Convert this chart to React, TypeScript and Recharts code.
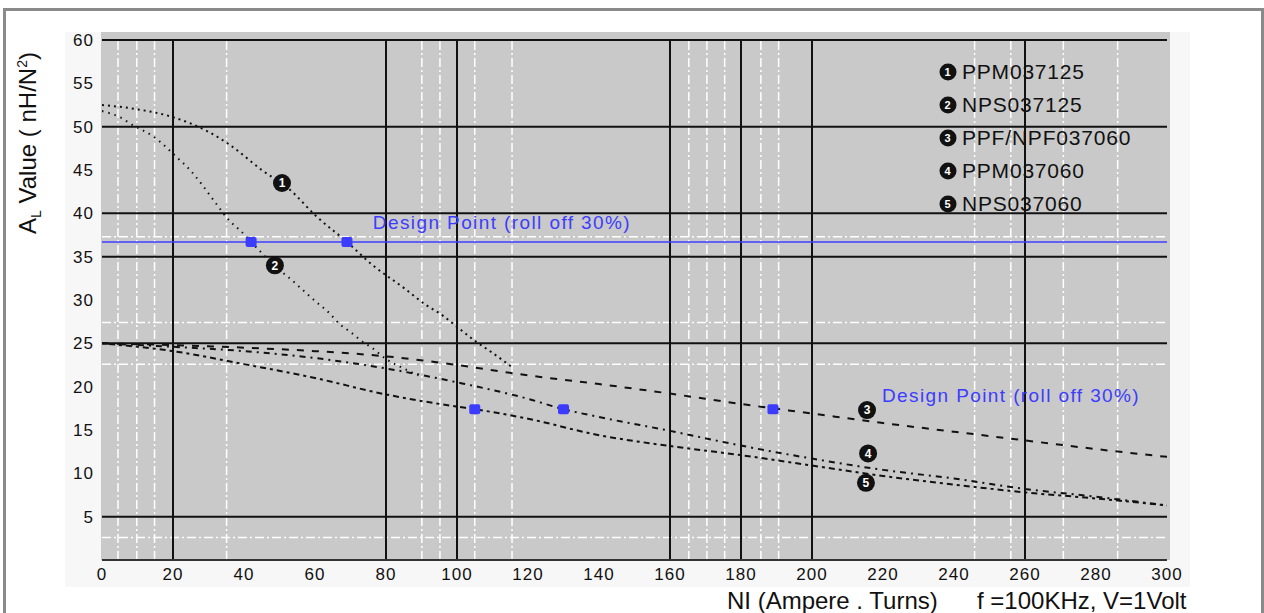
import { ComposedChart, Line, Scatter, XAxis, YAxis, ReferenceLine, Legend } from 'recharts';

const xTicks = [0, 20, 40, 60, 80, 100, 120, 140, 160, 180, 200, 220, 240, 260, 280, 300];
const yTicks = [5, 10, 15, 20, 25, 30, 35, 40, 45, 50, 55, 60];
const majorX = [20, 80, 100, 160, 180, 200, 260];
const majorY = [5, 25, 35, 40, 50, 60];
const minorX = [4.5, 9.8, 14.8, 35.1, 90.1, 95.2, 105, 115.5, 165.3, 170.4, 175.4, 185.6, 190.6, 245.8, 256, 270.8, 286.1];
const minorY = [2.6, 22.6, 27.4, 37.3];

const ppm125X = [0, 10, 20, 30, 36, 45, 53, 60, 69, 76, 85, 91, 96, 100, 105, 110, 116];
const ppm125Y = [52.5, 52.0, 51.1, 49.4, 47.9, 45.0, 42.7, 39.8, 36.7, 34.1, 31.4, 29.5, 28.2, 26.9, 25.3, 23.9, 22.1];
const nps125X = [0, 5, 9, 14, 21, 25, 28, 32, 36, 39, 42, 48, 54, 60, 64, 67, 70, 73, 76, 80, 83, 86, 89];
const nps125Y = [51.8, 51.1, 50.1, 49.0, 46.5, 44.9, 43.4, 41.2, 39.1, 38.0, 36.7, 34.2, 32.1, 29.9, 28.5, 27.2, 26.3, 25.3, 24.5, 23.2, 22.5, 21.9, 21.3];
const ppf060X = [0, 20, 40, 60, 80, 100, 120, 140, 160, 180, 200, 220, 240, 260, 280, 300];
const ppf060Y = [25.0, 24.8, 24.5, 24.1, 23.5, 22.5, 21.3, 20.3, 19.2, 18.0, 16.9, 15.8, 14.8, 13.8, 12.8, 11.9];
const ppm060X = [0, 20, 40, 60, 80, 100, 120, 130, 140, 160, 180, 200, 220, 240, 260, 280, 300];
const ppm060Y = [25.0, 24.6, 24.1, 23.3, 22.1, 20.5, 18.6, 17.4, 16.5, 14.9, 13.2, 11.7, 10.4, 9.4, 8.2, 7.3, 6.3];
const nps060X = [0, 20, 40, 60, 80, 100, 105, 120, 140, 160, 180, 200, 220, 240, 260, 280, 300];
const nps060Y = [25.0, 24.1, 22.6, 21.0, 19.1, 17.7, 17.4, 16.3, 14.4, 13.15, 12.1, 10.9, 9.7, 8.7, 7.8, 7.1, 6.3];

const designLevel = 36.7;
const designX = [42, 69, 105, 130, 189];
const designY = [36.7, 36.7, 17.4, 17.4, 17.4];

const seriesNames = ['PPM037125', 'NPS037125', 'PPF/NPF037060', 'PPM037060', 'NPS037060'];
const badgeX = [50.7, 48.7, 215.5, 215.8, 215.2];
const badgeY = [43.5, 34.0, 17.3, 12.3, 8.9];

const noteText = 'Design Point (roll off 30%)';
const noteX = [76.3, 219.7];
const noteY = [39.0, 19.0];

const toPoints = (xs: number[], ys: number[]) => xs.map((x, i) => ({ x, y: ys[i] }));

const curves = [
  { name: seriesNames[0], data: toPoints(ppm125X, ppm125Y), dash: '2 4' },
  { name: seriesNames[1], data: toPoints(nps125X, nps125Y), dash: '1.5 5' },
  { name: seriesNames[2], data: toPoints(ppf060X, ppf060Y), dash: '7 8' },
  { name: seriesNames[3], data: toPoints(ppm060X, ppm060Y), dash: '6 5 2 5' },
  { name: seriesNames[4], data: toPoints(nps060X, nps060Y), dash: '3 4 6 4' },
];

const badges = badgeX.map((x, i) => ({ x, y: badgeY[i], n: i + 1 }));
const notes = noteX.map((x, i) => ({ x, y: noteY[i], text: noteText }));

const FONT = '"Liberation Sans", Arial, sans-serif';
const BLUE = '#3c3cff';
const INK = '#111';

const Badge = (props: any) => {
  const { cx, cy, payload } = props;
  return (
    <g>
      <circle cx={cx} cy={cy} r={9} fill={INK} />
      <text x={cx} y={cy} dy="0.36em" textAnchor="middle" fill="#fff" fontSize={12} fontWeight="bold" fontFamily={FONT}>
        {payload.n}
      </text>
    </g>
  );
};

const DesignDot = (props: any) => {
  const { cx, cy } = props;
  return <rect x={cx - 5.5} y={cy - 5} width={11} height={10} rx={2} fill={BLUE} />;
};

const Note = (props: any) => {
  const { cx, cy, payload } = props;
  return (
    <text x={cx} y={cy} dy="0.36em" fill={BLUE} fontSize={19} letterSpacing={1.4} fontFamily={FONT}>
      {payload.text}
    </text>
  );
};

const LegendBox = () => (
  <div style={{ fontFamily: FONT, fontSize: 21, letterSpacing: 0.8, color: INK }}>
    {seriesNames.map((name, i) => (
      <div key={name} style={{ display: 'flex', alignItems: 'center', height: 33 }}>
        <svg width={18} height={18} style={{ marginRight: 5, flexShrink: 0 }}>
          <circle cx={9} cy={9} r={8.5} fill={INK} />
          <text x={9} y={9} dy="0.36em" textAnchor="middle" fill="#fff" fontSize={11} fontWeight="bold" fontFamily={FONT}>
            {i + 1}
          </text>
        </svg>
        <span>{name}</span>
      </div>
    ))}
  </div>
);

export default function App() {
  return (
    <div style={{ position: 'absolute', left: 0, top: 0, width: 1264, height: 613, background: '#fff', overflow: 'hidden', fontFamily: FONT }}>
      <div style={{ position: 'absolute', left: 3, top: 8, width: 1255, height: 620, border: '3px solid #8a8a8a' }} />
      <div style={{ position: 'absolute', left: 65, top: 32, width: 1125, height: 555, background: '#f7f7f7' }} />
      <div style={{ position: 'absolute', left: 101, top: 32, width: 1069, height: 528, background: '#c9c9c9' }} />

      <div style={{ position: 'absolute', left: 0, top: 0 }}>
        <ComposedChart width={1264} height={613} margin={{ top: 40, right: 97, bottom: 23, left: 42 }}>
          <XAxis
            dataKey="x"
            type="number"
            domain={[0, 300]}
            ticks={xTicks}
            height={30}
            tickSize={0}
            tickMargin={8}
            axisLine={{ stroke: '#333', strokeWidth: 2 }}
            tick={{ fontSize: 17, fill: INK, fontFamily: FONT, letterSpacing: 1 }}
            allowDataOverflow
          />
          <YAxis
            dataKey="y"
            type="number"
            domain={[0, 60]}
            ticks={yTicks}
            width={60}
            tickSize={0}
            tickMargin={8}
            axisLine={false}
            tick={{ fontSize: 17, fill: INK, fontFamily: FONT, letterSpacing: 1 }}
            allowDataOverflow
          />

          {minorX.map((v) => (
            <ReferenceLine key={`mx${v}`} x={v} stroke="#fff" strokeWidth={1.5} strokeDasharray="9 3 2 3" />
          ))}
          {minorY.map((v) => (
            <ReferenceLine key={`my${v}`} y={v} stroke="#fff" strokeWidth={1.5} strokeDasharray="9 3 2 3" />
          ))}
          {majorX.map((v) => (
            <ReferenceLine key={`bx${v}`} x={v} stroke={INK} strokeWidth={2} />
          ))}
          {majorY.map((v) => (
            <ReferenceLine key={`by${v}`} y={v} stroke={INK} strokeWidth={2} />
          ))}
          <ReferenceLine y={designLevel} stroke={BLUE} strokeWidth={1.6} />

          {curves.map((c) => (
            <Line
              key={c.name}
              data={c.data}
              dataKey="y"
              name={c.name}
              type="monotone"
              stroke={INK}
              strokeWidth={2}
              strokeDasharray={c.dash}
              dot={false}
              activeDot={false}
              legendType="none"
              isAnimationActive={false}
            />
          ))}

          <Scatter data={toPoints(designX, designY)} shape={DesignDot} legendType="none" isAnimationActive={false} />
          <Scatter data={badges} shape={Badge} legendType="none" isAnimationActive={false} />
          <Scatter data={notes} shape={Note} legendType="none" isAnimationActive={false} />

          <Legend
            layout="horizontal"
            verticalAlign="middle"
            align="center"
            content={LegendBox}
            wrapperStyle={{ position: 'absolute', left: 939, top: 55, width: 'auto' }}
          />
        </ComposedChart>
      </div>

      <div
        style={{
          position: 'absolute',
          left: 29,
          top: 143,
          transform: 'translate(-50%, -50%) rotate(-90deg)',
          whiteSpace: 'nowrap',
          fontSize: 24,
          color: INK,
        }}
      >
        A<sub style={{ fontSize: 14 }}>L</sub> Value ( nH/N<sup style={{ fontSize: 14 }}>2</sup>)
      </div>
      <div style={{ position: 'absolute', left: 727, top: 587, whiteSpace: 'nowrap', fontSize: 24, color: INK }}>
        NI (Ampere . Turns)
      </div>
      <div style={{ position: 'absolute', left: 977, top: 587, whiteSpace: 'nowrap', fontSize: 24, color: INK }}>
        f =100KHz, V=1Volt
      </div>
    </div>
  );
}
